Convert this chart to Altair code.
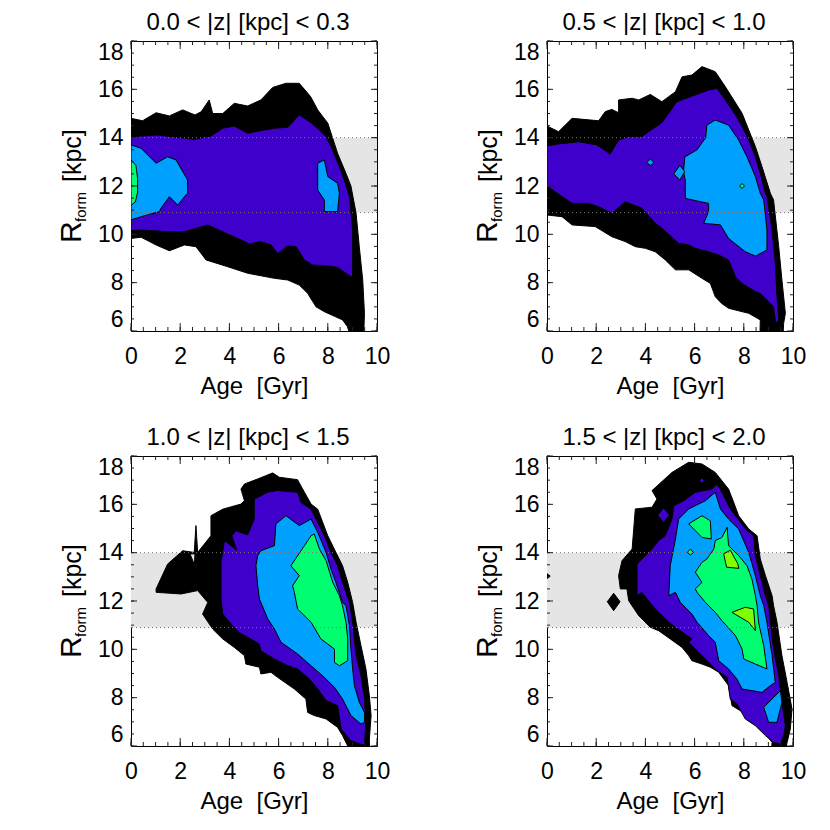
import altair as alt
import pandas as pd

FONT = "Liberation Sans"
W, H = 246, 290

AGE_MAJOR = [0, 2, 4, 6, 8, 10]
AGE_MINOR = [i * 0.5 for i in range(21)]
R_MAJOR = [6, 8, 10, 12, 14, 16, 18]
R_MINOR = [6 + i * 0.5 for i in range(25)]
BAND_LO, BAND_HI = 10.9, 14.0

TITLES = ["0.0 < |z| [kpc] < 0.3", "0.5 < |z| [kpc] < 1.0",
          "1.0 < |z| [kpc] < 1.5", "1.5 < |z| [kpc] < 2.0"]

LEVEL_COLORS = ["#000000", "#4000cc", "#00a0ff", "#00ff70", "#80ff00", "#e5e5e5"]

# ---------------- panel 1 : 0.0 < |z| < 0.3 ----------------
P1_BLACK = [(0,14.8),(0.47,14.7),(1.02,15.03),(1.56,14.9),(2.1,15.15),(2.6,14.94),(2.85,15.07),(3.18,15.56),(3.32,15.0),(3.73,15.0),(4.2,15.42),(4.74,15.31),(5.28,15.56),(5.76,16.08),(6.3,16.25),(6.84,16.25),(7.3,15.7),(7.59,15.15),(8.0,14.6),(8.4,13.35),(8.74,12.52),(8.94,12.0),(9.15,10.87),(9.28,9.49),(9.42,8.11),(9.49,6.73),(9.45,5.5),(9.0,5.5),(8.8,6.18),(8.6,6.46),(7.86,6.8),(7.52,7.0),(7.18,7.56),(6.84,7.9),(6.37,8.11),(5.83,8.18),(4.74,8.39),(3.93,8.66),(3.05,8.94),(2.64,9.49),(2.17,9.56),(1.56,9.32),(1.02,9.56),(0.41,9.88),(0,9.83)]
P1_PURPLE = [(0,14.04),(1.08,14.11),(2.57,13.93),(3.25,14.07),(3.73,14.39),(4.2,14.48),(4.74,14.18),(5.28,14.29),(5.83,14.39),(6.37,14.43),(6.84,14.94),(7.32,14.62),(7.72,14.25),(7.93,14.04),(8.13,13.63),(8.47,12.8),(8.67,12.25),(8.88,11.56),(9.01,10.18),(9.01,8.25),(8.94,8.25),(8.4,8.63),(8.0,8.69),(7.38,8.73),(7.05,8.94),(6.71,9.49),(6.37,9.52),(5.96,9.21),(5.69,9.56),(5.28,9.7),(4.81,9.6),(4.47,9.77),(3.86,10.04),(3.12,10.39),(2.64,10.25),(2.17,10.11),(1.49,10.11),(0.41,10.18),(0,10.15)]
P1_BLUE_A = [(0,13.7),(0.41,13.56),(1.02,12.94),(1.49,13.21),(1.83,13.08),(2.3,12.25),(2.3,11.7),(2.17,11.56),(1.9,11.21),(1.56,11.56),(1.22,11.08),(1.15,10.94),(0.41,10.73),(0,10.6)]
P1_BLUE_B = [(7.59,12.94),(7.86,13.08),(8.0,12.39),(8.4,12.11),(8.47,11.7),(8.4,10.94),(7.86,10.94),(7.86,11.42),(7.59,11.83)]
P1_GREEN = [(0,13.08),(0.2,12.85),(0.27,12.3),(0.27,11.75),(0.18,11.35),(0,11.2)]
P1_DOT = [(2.5,12.98),(2.6,13.02),(2.72,12.98),(2.6,12.94)]

# ---------------- panel 2 : 0.5 < |z| < 1.0 ----------------
P2_BLACK = [(0,14.48),(0.47,14.25),(1.02,14.8),(2.1,14.7),(2.37,15.08),(2.64,15.17),(2.91,15.03),(2.91,15.56),(3.46,15.63),(3.73,15.56),(4.2,15.79),(4.67,15.49),(5.22,15.9),(5.49,16.52),(5.89,16.59),(6.3,16.94),(6.84,16.73),(7.25,16.11),(7.59,15.56),(7.93,15.01),(8.2,14.32),(8.47,13.63),(8.74,12.8),(9.08,11.7),(9.21,11.42),(9.42,9.49),(9.55,8.11),(9.69,6.73),(9.62,6.32),(9.58,5.5),(8.65,5.5),(8.67,6.46),(8.2,6.73),(7.38,6.94),(7.1,7.14),(6.84,7.42),(6.64,7.97),(6.3,8.18),(5.76,8.53),(5.22,8.53),(4.81,8.94),(4.4,9.28),(4.0,9.42),(3.59,9.49),(3.18,9.7),(2.64,9.9),(1.96,10.32),(1.02,10.39),(0.61,10.73),(0,10.8)]
P2_PURPLE = [(0,13.66),(0.47,13.74),(1.29,13.83),(2.03,13.7),(2.57,13.32),(2.91,13.9),(3.32,14.04),(3.86,14.04),(4.13,14.25),(4.67,14.62),(5.28,15.49),(6.03,15.77),(6.57,15.97),(6.91,16.04),(7.25,15.56),(7.66,14.94),(7.93,14.46),(8.2,13.9),(8.47,13.21),(8.67,12.52),(8.88,11.7),(8.94,11.56),(9.15,10.18),(9.28,8.8),(9.35,7.42),(9.42,6.46),(9.3,6.3),(9.21,7.0),(8.67,7.56),(8.47,7.63),(7.93,7.97),(7.66,8.25),(7.38,8.94),(6.98,9.14),(6.57,9.28),(6.03,9.42),(5.76,9.56),(5.35,9.63),(4.67,10.25),(4.4,10.46),(3.86,11.08),(3.18,11.35),(2.64,10.87),(2.1,11.14),(1.69,11.28),(1.02,11.28),(0,12.0)]
P2_BLUE = [(6.5,14.52),(6.84,14.73),(7.38,14.52),(7.79,13.9),(8.13,13.21),(8.47,12.39),(8.67,11.7),(8.81,11.42),(8.94,10.18),(8.94,9.35),(8.47,9.1),(8.06,9.28),(7.38,9.83),(7.05,10.39),(6.37,10.46),(6.57,10.94),(6.57,11.28),(5.62,11.49),(5.62,12.25),(5.55,12.6),(5.6,13.2),(6.1,13.5),(6.45,14.0)]
P2_BLUE_D1 = [(4.05,12.97),(4.2,13.12),(4.35,12.97),(4.2,12.85)]
P2_BLUE_D2 = [(5.15,12.5),(5.4,12.85),(5.6,12.6),(5.4,12.25)]
P2_GREEN_D = [(7.83,12.0),(7.93,12.1),(8.03,12.0),(7.93,11.9)]
P2_DOT = [(1.42,11.97),(1.56,12.03),(1.7,11.97),(1.56,11.91)]

# ---------------- panel 3 : 1.0 < |z| < 1.5 ----------------
P3_BLACK = [(1.02,12.5),(1.49,13.53),(2.1,14.08),(2.57,14.01),(2.64,15.12),(2.71,14.01),(3.25,14.7),(3.25,15.53),(3.73,15.8),(4.47,16.01),(4.61,16.15),(4.47,16.63),(4.61,16.84),(5.15,17.05),(5.76,17.3),(6.03,17.12),(6.77,17.02),(7.05,16.5),(7.32,16.01),(7.59,15.8),(7.79,15.26),(8.0,14.7),(8.33,14.01),(8.6,13.46),(8.81,12.77),(9.01,11.94),(9.15,11.12),(9.35,10.15),(9.55,9.19),(9.69,8.08),(9.76,7.26),(9.69,6.29),(9.7,5.5),(8.8,5.5),(8.81,6.0),(8.6,6.43),(8.4,6.77),(7.93,7.12),(7.45,7.26),(7.18,7.39),(7.11,7.94),(6.64,8.36),(5.96,8.84),(5.69,9.05),(5.28,8.98),(5.22,9.26),(4.67,9.39),(4.61,9.74),(4.2,10.08),(3.73,10.43),(3.32,10.84),(2.91,11.46),(3.12,11.94),(2.71,12.43),(2.03,12.29),(1.02,12.36)]
P3_HOLE = [(2.4,13.95),(2.6,13.95),(2.58,13.5)]
P3_PURPLE = [(3.66,13.6),(3.8,14.5),(4.3,14.1),(4.1,14.7),(4.27,14.91),(4.74,14.73),(5.01,15.39),(5.01,16.22),(5.56,16.5),(5.96,16.57),(6.77,16.5),(6.91,16.08),(7.32,15.8),(7.59,15.26),(7.86,14.7),(8.13,14.01),(8.4,13.46),(8.6,12.77),(8.88,11.94),(9.01,11.12),(9.15,9.74),(9.35,8.91),(9.49,7.94),(9.55,6.98),(9.49,6.08),(9.4,6.05),(8.94,6.22),(8.54,6.7),(8.4,7.67),(7.93,7.88),(7.59,8.36),(7.25,8.77),(6.77,9.19),(6.37,9.32),(5.83,9.6),(5.28,9.94),(5.22,10.22),(4.4,10.7),(4.13,10.98),(3.73,11.46),(3.66,12.08),(3.66,12.5)]
P3_BLUE = [(5.15,13.88),(5.28,14.08),(5.83,14.29),(5.89,15.19),(6.3,15.53),(6.84,15.12),(7.32,15.39),(7.59,14.84),(7.93,14.01),(8.13,13.32),(8.33,12.77),(8.6,11.94),(8.74,11.81),(8.88,10.98),(8.94,10.01),(9.01,9.19),(9.08,8.5),(9.28,7.81),(9.49,7.39),(9.49,6.98),(9.35,6.91),(8.94,7.26),(8.6,7.94),(8.27,8.43),(7.86,8.84),(7.32,9.32),(6.77,9.81),(6.1,10.29),(5.83,10.84),(5.56,11.26),(5.22,12.08),(5.15,12.63),(5.08,13.46)]
P3_GREEN = [(6.5,13.46),(7.05,14.29),(7.32,14.7),(7.45,14.77),(7.66,14.15),(7.93,13.67),(8.2,12.77),(8.47,12.22),(8.6,11.8),(8.74,11.12),(8.81,10.43),(8.81,9.53),(8.47,9.32),(8.27,9.46),(8.27,10.01),(7.72,10.43),(7.32,11.12),(6.77,11.67),(6.64,12.36),(6.57,12.63),(6.84,13.05)]

# ---------------- panel 4 : 1.5 < |z| < 2.0 ----------------
P4_BLACK = [(2.91,13.05),(3.05,13.67),(3.46,14.15),(3.59,15.81),(4.27,15.88),(4.47,16.22),(4.27,16.57),(5.08,17.32),(5.76,17.74),(6.3,17.67),(6.84,17.32),(7.38,16.63),(7.59,16.08),(7.79,15.53),(8.2,14.98),(8.54,14.7),(8.67,13.74),(8.88,13.05),(9.15,12.22),(9.21,11.81),(9.35,11.12),(9.55,9.74),(9.76,8.63),(9.96,7.53),(9.89,6.7),(9.76,6.15),(9.62,5.5),(9.1,5.5),(9.15,6.15),(8.94,6.43),(8.74,6.7),(8.33,7.12),(7.86,7.46),(7.52,7.67),(7.38,8.5),(6.98,9.05),(6.64,9.26),(6.3,9.39),(5.89,9.53),(5.76,9.74),(5.49,10.08),(5.01,10.43),(4.54,10.77),(4.2,10.91),(3.73,11.39),(3.32,12.01),(3.25,12.5),(2.98,12.5)]
P4_BLACK_D1 = [(2.45,11.97),(2.71,12.32),(2.97,11.97),(2.71,11.6)]
P4_BLACK_D2 = [(0,12.93),(0.13,13.03),(0,13.13)]
P4_PURPLE = [(3.66,13.53),(4.27,14.15),(4.54,14.5),(4.81,14.7),(5.08,15.39),(5.15,15.94),(5.56,16.15),(6.03,16.5),(6.71,16.63),(6.91,16.84),(7.18,16.36),(7.45,15.81),(8.13,14.91),(8.4,14.7),(8.47,13.88),(8.67,13.05),(8.88,12.22),(9.01,11.81),(9.08,11.12),(9.21,10.01),(9.42,8.91),(9.55,7.81),(9.69,6.84),(9.62,6.43),(9.49,6.08),(9.21,6.15),(8.88,6.43),(8.47,6.84),(8.06,7.12),(7.72,7.74),(7.45,7.94),(7.32,8.84),(6.84,9.19),(6.03,10.01),(5.76,10.29),(5.89,10.43),(5.22,10.91),(4.88,11.19),(4.4,11.67),(4.13,12.01),(3.86,12.36),(3.66,12.22)]
P4_PURPLE_D1 = [(4.5,15.55),(4.74,15.85),(4.98,15.55),(4.74,15.25)]
P4_PURPLE_D2 = [(6.2,16.98),(6.3,17.1),(6.4,16.98),(6.3,16.86)]
P4_BLUE = [(4.95,12.22),(5.01,13.46),(5.22,14.56),(5.35,15.39),(5.76,15.81),(6.44,16.15),(6.84,16.5),(7.05,15.81),(7.38,15.39),(7.79,14.98),(8.2,14.01),(8.47,13.05),(8.67,12.22),(8.81,11.81),(8.94,11.12),(9.15,9.74),(9.28,8.63),(9.08,8.5),(8.74,8.22),(7.93,8.36),(7.72,8.77),(7.38,9.19),(6.98,9.53),(6.84,10.29),(6.57,10.57),(6.1,11.12),(5.89,11.46),(5.42,11.94),(5.22,12.36)]
P4_BLUE_B = [(8.81,7.6),(9.49,8.29),(9.55,7.81),(9.35,6.98),(9.01,6.98)]
P4_GREEN = [(6.03,12.5),(6.3,12.77),(6.03,13.19),(6.3,13.6),(6.5,13.74),(6.78,14.15),(6.84,14.5),(7.11,14.63),(7.32,15.05),(7.38,14.29),(7.79,13.88),(8.13,13.46),(8.33,12.91),(8.47,12.22),(8.54,11.81),(8.6,11.12),(8.81,10.15),(8.94,9.19),(8.47,9.39),(8.0,9.6),(7.93,10.01),(7.66,10.57),(7.11,11.19),(6.84,11.53),(6.44,11.94),(6.1,12.36)]
P4_GREEN_B = [(5.76,15.19),(6.3,15.53),(6.64,15.32),(6.68,14.57),(6.3,14.63)]
P4_GREEN_C = [(5.7,14.01),(5.83,14.15),(5.95,14.01),(5.83,13.9)]
P4_LIME_A = [(7.18,13.95),(7.45,14.1),(7.75,13.55),(7.8,13.35),(7.3,13.4)]
P4_LIME_B = [(7.52,11.53),(8.06,11.74),(8.4,11.67),(8.47,10.77),(8.2,11.12)]

PANELS = [
    [(0, P1_BLACK), (0, P1_DOT), (1, P1_PURPLE), (2, P1_BLUE_A), (2, P1_BLUE_B), (3, P1_GREEN)],
    [(0, P2_BLACK), (0, P2_DOT), (1, P2_PURPLE), (2, P2_BLUE), (2, P2_BLUE_D1), (2, P2_BLUE_D2), (3, P2_GREEN_D)],
    [(0, P3_BLACK), (5, P3_HOLE), (1, P3_PURPLE), (2, P3_BLUE), (3, P3_GREEN)],
    [(0, P4_BLACK), (0, P4_BLACK_D1), (0, P4_BLACK_D2), (1, P4_PURPLE), (1, P4_PURPLE_D1), (1, P4_PURPLE_D2),
     (2, P4_BLUE), (2, P4_BLUE_B), (3, P4_GREEN), (3, P4_GREEN_B), (3, P4_GREEN_C), (4, P4_LIME_A), (4, P4_LIME_B)],
]

XS = alt.Scale(domain=[0, 10], nice=False, zero=False, padding=0)
YS = alt.Scale(domain=[6, 18], nice=False, zero=False, padding=0)
COMMON_AX = dict(domain=False, ticks=False, tickSize=0, grid=False, labelFont=FONT, titleFont=FONT,
                 labelFontSize=23, titleFontSize=24, labelColor="black", titleColor="black",
                 labelFontWeight="normal", titleFontWeight="normal", format="d")
X_AXIS = alt.Axis(values=AGE_MAJOR, title="Age\u00a0 [Gyr]", labelPadding=14, titlePadding=6,
                  labelFlush=False, **COMMON_AX)
Y_AXIS = alt.Axis(values=R_MAJOR, title=None, labelPadding=8, labelFlush=True, **COMMON_AX)


def X(f):
    return alt.X(f, type="quantitative", scale=XS, axis=X_AXIS)


def Y(f):
    return alt.Y(f, type="quantitative", scale=YS, axis=Y_AXIS)


def panel(idx):
    layers = []
    band = pd.DataFrame({"a0": [0], "a1": [10], "lo": [BAND_LO], "hi": [BAND_HI]})
    layers.append(alt.Chart(band).mark_rect(color="#e5e5e5").encode(x=X("a0"), x2="a1", y=Y("lo"), y2="hi"))
    rows = []
    for k, (lev, poly) in enumerate(PANELS[idx]):
        for i, (a, r) in enumerate(poly):
            rows.append({"lev": lev, "poly": k, "i": i, "age": a, "R": r})
    df = pd.DataFrame(rows)
    for lev in [0, 5, 1, 2, 3, 4]:
        sub = df[df.lev == lev]
        if len(sub) == 0:
            continue
        layers.append(alt.Chart(sub).mark_line(
            filled=True, fill=LEVEL_COLORS[lev], stroke="black", strokeWidth=1,
            interpolate="linear-closed", clip=True, strokeJoin="miter"
        ).encode(x=X("age"), y=Y("R"), detail="poly:N", order="i:Q"))
    lines = pd.DataFrame({"R": [BAND_LO, BAND_HI]})
    layers.append(alt.Chart(lines).mark_rule(color="#777777", strokeDash=[1, 3], strokeWidth=1).encode(y=Y("R")))
    # box ticks (inward)
    xmaj = pd.DataFrame({"v": AGE_MAJOR})
    xmin = pd.DataFrame({"v": AGE_MINOR})
    ymaj = pd.DataFrame({"v": R_MAJOR})
    ymin = pd.DataFrame({"v": R_MINOR})
    tick = dict(color="#222222", strokeWidth=1)
    layers += [
        alt.Chart(xmaj).mark_rule(**tick).encode(x=X("v"), y=alt.value(H), y2=alt.value(H - 8)),
        alt.Chart(xmin).mark_rule(**tick).encode(x=X("v"), y=alt.value(H), y2=alt.value(H - 4)),
        alt.Chart(xmaj).mark_rule(**tick).encode(x=X("v"), y=alt.value(0), y2=alt.value(8)),
        alt.Chart(xmin).mark_rule(**tick).encode(x=X("v"), y=alt.value(0), y2=alt.value(4)),
        alt.Chart(ymaj).mark_rule(**tick).encode(y=Y("v"), x=alt.value(0), x2=alt.value(6)),
        alt.Chart(ymin).mark_rule(**tick).encode(y=Y("v"), x=alt.value(0), x2=alt.value(3)),
        alt.Chart(ymaj).mark_rule(**tick).encode(y=Y("v"), x=alt.value(W), x2=alt.value(W - 6)),
        alt.Chart(ymin).mark_rule(**tick).encode(y=Y("v"), x=alt.value(W), x2=alt.value(W - 3)),
    ]
    # y title: R_form  [kpc]
    def ytext(s, size, x, y):
        return alt.Chart(pd.DataFrame({"t": [s]})).mark_text(
            angle=270, align="left", baseline="alphabetic", font=FONT, fontSize=size, color="black"
        ).encode(text="t:N", x=alt.value(x), y=alt.value(y))
    layers += [ytext("R", 30, -50, 202), ytext("form", 15, -45, 181), ytext("[kpc]", 25, -50, 141)]
    return alt.layer(*layers).properties(
        width=W, height=H,
        title=alt.TitleParams(TITLES[idx], font=FONT, fontSize=24, fontWeight="normal", color="black",
                              offset=6, dx=-6),
    )


row1 = alt.hconcat(panel(0), panel(1), spacing=81)
row2 = alt.hconcat(panel(2), panel(3), spacing=81)
chart = alt.vconcat(row1, row2, spacing=26).properties(
    padding={"left": 48, "top": 2, "right": 0, "bottom": 0}
).configure_view(stroke="black", strokeWidth=1)

chart.save("out.html", embed_options={"renderer": "svg", "actions": False})
